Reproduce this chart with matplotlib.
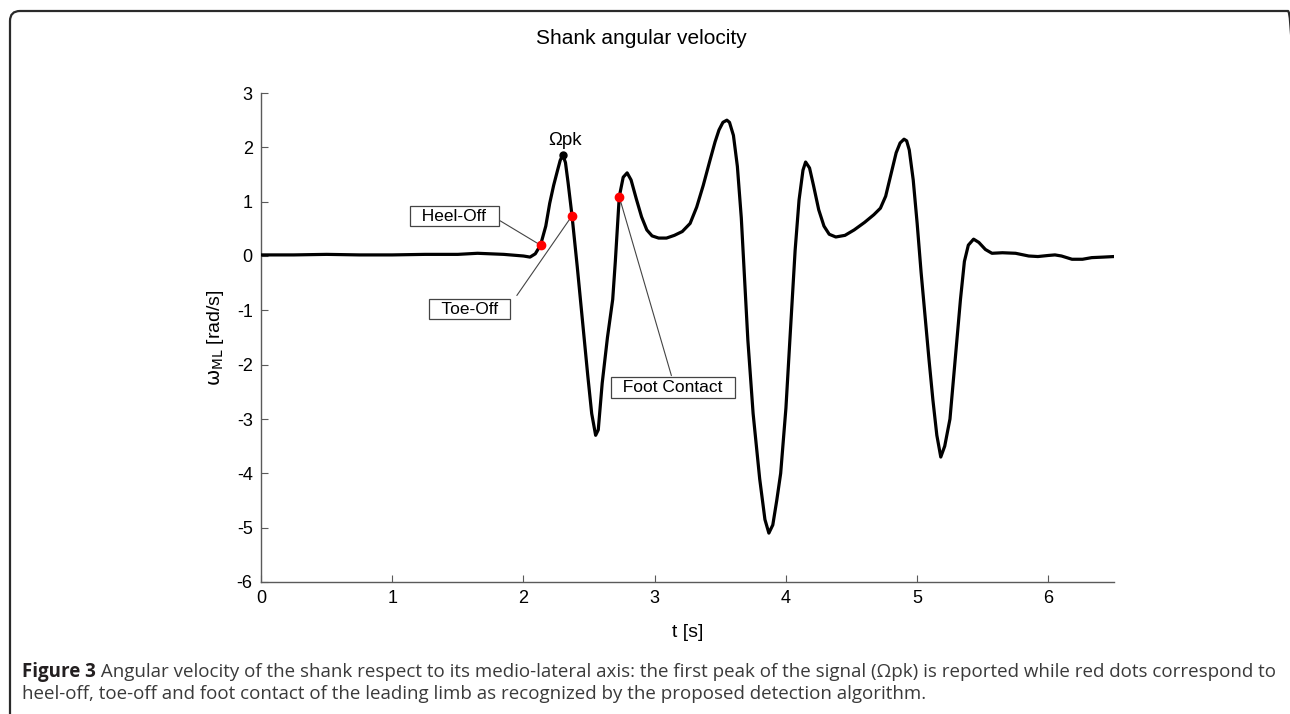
import matplotlib.pyplot as plt
from matplotlib.patches import FancyBboxPatch

plt.rcParams['axes.unicode_minus'] = False

# shank angular velocity (t in s, w in rad/s)
t = [0.00, 0.25, 0.50, 0.75, 1.00, 1.25, 1.50, 1.65, 1.75, 1.85, 1.95, 2.00, 2.05, 2.09,
     2.13, 2.17, 2.20, 2.23, 2.26, 2.28, 2.30, 2.32, 2.34, 2.37, 2.41, 2.45, 2.49, 2.52,
     2.55, 2.57, 2.60, 2.64, 2.68, 2.70, 2.73, 2.76, 2.79, 2.82, 2.86, 2.90, 2.94, 2.98,
     3.03, 3.09, 3.15, 3.21, 3.27, 3.32, 3.37, 3.42, 3.46, 3.49, 3.52, 3.55, 3.57, 3.60,
     3.63, 3.66, 3.68, 3.71, 3.75, 3.80, 3.84, 3.87, 3.90, 3.93, 3.96, 4.00, 4.03, 4.07,
     4.10, 4.13, 4.15, 4.18, 4.21, 4.25, 4.29, 4.33, 4.38, 4.45, 4.52, 4.60, 4.67, 4.72,
     4.76, 4.80, 4.84, 4.87, 4.90, 4.92, 4.94, 4.97, 5.00, 5.03, 5.06, 5.09, 5.12, 5.15,
     5.18, 5.21, 5.25, 5.29, 5.33, 5.36, 5.39, 5.43, 5.47, 5.52, 5.57, 5.65, 5.75, 5.85,
     5.92, 6.00, 6.05, 6.10, 6.18, 6.26, 6.33, 6.42, 6.50]
w = [0.02, 0.02, 0.03, 0.02, 0.02, 0.03, 0.03, 0.05, 0.04, 0.03, 0.01, 0.00, -0.02, 0.04,
     0.20, 0.55, 0.97, 1.30, 1.58, 1.76, 1.86, 1.72, 1.35, 0.74, -0.20, -1.20, -2.20, -2.90,
     -3.30, -3.20, -2.34, -1.50, -0.80, -0.10, 1.09, 1.45, 1.53, 1.40, 1.05, 0.72, 0.48, 0.37,
     0.33, 0.33, 0.38, 0.45, 0.60, 0.90, 1.30, 1.75, 2.10, 2.32, 2.46, 2.50, 2.46, 2.22,
     1.65, 0.70, -0.20, -1.55, -2.90, -4.10, -4.85, -5.10, -4.95, -4.50, -4.00, -2.80, -1.55, 0.10,
     1.03, 1.58, 1.73, 1.62, 1.30, 0.85, 0.55, 0.40, 0.35, 0.38, 0.48, 0.62, 0.76, 0.88,
     1.10, 1.50, 1.90, 2.08, 2.15, 2.12, 1.95, 1.40, 0.60, -0.30, -1.10, -1.90, -2.65, -3.30,
     -3.70, -3.50, -3.00, -1.90, -0.80, -0.10, 0.20, 0.31, 0.25, 0.12, 0.05, 0.06, 0.05, 0.00,
     -0.01, 0.01, 0.02, 0.00, -0.06, -0.06, -0.03, -0.02, -0.01]

ev_names = ['Heel-Off', 'Toe-Off', 'Foot Contact']
ev_t = [2.13, 2.37, 2.73]
ev_w = [0.20, 0.74, 1.09]
pk_t, pk_w = 2.30, 1.86

W, H = 1290, 714
fig = plt.figure(figsize=(W / 100, H / 100), dpi=100)
ax = fig.add_axes([261 / W, 1 - 582 / H, 853 / W, 489 / H])

sans = 'Liberation Sans'
axc = '#5a5a5a'

ax.plot(t, w, color='black', lw=2.3, zorder=3)
ax.plot(ev_t, ev_w, 'o', color='red', ms=6, mec='red', zorder=4)
ax.plot([pk_t], [pk_w], 'o', color='black', ms=5, zorder=4)
ax.text(pk_t + 0.02, 2.04, '\u03a9pk', ha='center', va='baseline', fontsize=13.5, family=sans)

# label boxes: (text center t, text center w, relpos of line start, gap)
boxes = [(1.471, 0.736, (1.0, 0.35), 1), (1.589, -0.976, (1.0, 0.5), 8), (3.137, -2.42, (0.5, 1.0), 1)]
for name, x, y, (bx, by, rp, gap) in zip(ev_names, ev_t, ev_w, boxes):
    ax.annotate('  ' + name + '  ', xy=(x, y), xytext=(bx, by), ha='center', va='center',
                fontsize=12.5, family=sans,
                bbox=dict(boxstyle='square,pad=0.15', fc='white', ec='#444444', lw=0.9),
                arrowprops=dict(arrowstyle='-', color='#444444', lw=0.8, relpos=rp,
                                shrinkA=gap, shrinkB=0), zorder=2)

ax.set_xlim(0, 6.5)
ax.set_ylim(-6, 3)
ax.set_xticks(range(0, 7))
ax.set_yticks(range(-6, 4))
for s in ['top', 'right']:
    ax.spines[s].set_visible(False)
for s in ['left', 'bottom']:
    ax.spines[s].set_color(axc)
    ax.spines[s].set_linewidth(1.0)
ax.tick_params(direction='in', length=5, color=axc, labelsize=13, pad=6)
for lb in ax.get_xticklabels() + ax.get_yticklabels():
    lb.set_family(sans)

ax.set_xlabel('t [s]', fontsize=14, family=sans, labelpad=12)
ax.set_ylabel(r'$\mathrm{\omega}_{\mathrm{ML}}$ [rad/s]', fontsize=14, family=sans, labelpad=8)
fig.text(0.497, 1 - 38 / H, 'Shank angular velocity', ha='center', va='center',
         fontsize=15, family=sans)

# rounded frame around the figure, right and bottom edges off-canvas
frame = FancyBboxPatch((0.10, -1.0), 12.88, 8.03, boxstyle='round,pad=0,rounding_size=0.1',
                       transform=fig.dpi_scale_trans, fc='none', ec='#2a2a2a', lw=1.6)
fig.patches.append(frame)

# caption
cap_font = 'Open Sans'
line1 = 'Angular velocity of the shank respect to its medio-lateral axis: the first peak of the signal (\u03a9pk) is reported while red dots correspond to'
line2 = 'heel-off, toe-off and foot contact of the leading limb as recognized by the proposed detection algorithm.'
r = fig.canvas.get_renderer()
fs = 12
b = fig.text(22 / W, 1 - 677 / H, 'Figure 3', fontsize=fs, fontweight='bold', family=cap_font, color='#231f20')
rest = fig.text(0, 1 - 677 / H, ' ' + line1, fontsize=fs, family=cap_font, color='#3a3a3a')
bw = b.get_window_extent(r).width
rw = rest.get_window_extent(r).width
fs = fs * (1268 - 22) / (bw + rw)
b.set_fontsize(fs)
rest.set_fontsize(fs)
bb = b.get_window_extent(r)
rest.set_x(bb.x1 / W)
fig.text(22 / W, 1 - 699 / H, line2, fontsize=fs, family=cap_font, color='#3a3a3a')

fig.savefig('out.png', dpi=100)
